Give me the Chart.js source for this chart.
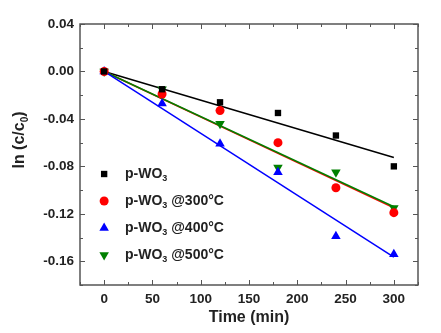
<!DOCTYPE html>
<html lang="en">
<head>
    <meta charset="UTF-8">
    <title>ln(c/c0) vs time</title>
    <script src="https://cdn.jsdelivr.net/npm/chart.js"></script>
    <style>
        body { margin: 0; background: #fff; }
        .chart-container { width: 441px; height: 333px; }
    </style>
</head>
<body>
    <div class="chart-container">
        <canvas id="kineticsChart" width="441" height="333"></canvas>
    </div>

    <script>
        // sampling times (min)
        const times = [0, 60, 120, 180, 240, 300];

        // ln(c/c0) for each sample
        const pWO3 = [0, -0.015, -0.026, -0.035, -0.054, -0.080];
        const pWO3_300 = [0, -0.019, -0.033, -0.060, -0.098, -0.119];
        const pWO3_400 = [0, -0.027, -0.061, -0.085, -0.139, -0.154];
        const pWO3_500 = [0, -0.015, -0.044, -0.081, -0.085, -0.115];

        // linear fits: value at t = 0 and t = 300
        const fitTimes = [0, 300];
        const fitPWO3 = [0, -0.0725];
        const fitPWO3_300 = [0, -0.1150];
        const fitPWO3_400 = [0, -0.1565];
        const fitPWO3_500 = [0, -0.1140];

        const xTicks = [0, 50, 100, 150, 200, 250, 300];
        const yTicks = [0.04, 0.00, -0.04, -0.08, -0.12, -0.16];

        const legendLabels = ['', ' @300°C', ' @400°C', ' @500°C'];

        const FONT = 'Arial, "Liberation Sans", sans-serif';
        const colors = ['#000000', '#ff0000', '#0000ff', '#008000'];
        const styles = [
            { pointStyle: 'rect', radius: 4.5, rotation: 0 },
            { pointStyle: 'circle', radius: 4.5, rotation: 0 },
            { pointStyle: 'triangle', radius: 5.5, rotation: 0 },
            { pointStyle: 'triangle', radius: 5.5, rotation: 180 }
        ];

        const toPts = (xs, ys) => xs.map((x, i) => ({ x: x, y: ys[i] }));

        const series = [pWO3, pWO3_300, pWO3_400, pWO3_500];
        const fits = [fitPWO3, fitPWO3_300, fitPWO3_400, fitPWO3_500];

        const datasets = [];
        // fit lines, drawn below the markers (green over red)
        [0, 1, 3, 2].forEach((k, n) => {
            datasets.push({
                data: toPts(fitTimes, fits[k]),
                showLine: true,
                borderColor: colors[k],
                borderWidth: 1.5,
                pointRadius: 0,
                order: 10 - n
            });
        });
        series.forEach((s, k) => {
            datasets.push({
                data: toPts(times, s),
                showLine: false,
                backgroundColor: colors[k],
                borderColor: colors[k],
                borderWidth: 0,
                pointStyle: styles[k].pointStyle,
                pointRadius: styles[k].radius,
                rotation: styles[k].rotation,
                order: 0
            });
        });

        // text with a subscripted part, e.g. p-WO3
        function drawSub(ctx, parts, x, y, size) {
            parts.forEach(p => {
                if (p.sub) {
                    ctx.font = 'bold ' + Math.round(size * 0.62) + 'px ' + FONT;
                    ctx.fillText(p.t, x, y + size * 0.3);
                } else {
                    ctx.font = 'bold ' + size + 'px ' + FONT;
                    ctx.fillText(p.t, x, y);
                }
                x += ctx.measureText(p.t).width;
            });
        }

        const framePlugin = {
            id: 'frame',
            afterDraw(chart) {
                const ctx = chart.ctx;
                const a = chart.chartArea;
                const xs = chart.scales.x, ys = chart.scales.y;
                ctx.save();
                ctx.strokeStyle = '#555';
                ctx.lineWidth = 1.5;
                ctx.strokeRect(a.left, a.top, a.right - a.left, a.bottom - a.top);

                ctx.lineWidth = 1;
                ctx.beginPath();
                for (let v = -25; v <= 325; v += 25) {
                    const px = Math.round(xs.getPixelForValue(v)) + 0.5;
                    const len = v % 50 === 0 ? 5 : 3;
                    ctx.moveTo(px, a.bottom); ctx.lineTo(px, a.bottom - len);
                    ctx.moveTo(px, a.top); ctx.lineTo(px, a.top + len);
                }
                for (let i = 0; i <= 11; i++) {
                    const v = 0.04 - i * 0.02;
                    const py = Math.round(ys.getPixelForValue(v)) + 0.5;
                    const len = i % 2 === 0 ? 5 : 3;
                    ctx.moveTo(a.left, py); ctx.lineTo(a.left + len, py);
                    ctx.moveTo(a.right, py); ctx.lineTo(a.right - len, py);
                }
                ctx.stroke();

                // legend
                ctx.textBaseline = 'middle';
                ctx.textAlign = 'left';
                legendLabels.forEach((lab, k) => {
                    const ly = 174 + k * 27;
                    ctx.fillStyle = colors[k];
                    Chart.helpers.drawPoint(ctx, {
                        pointStyle: styles[k].pointStyle,
                        radius: styles[k].radius,
                        rotation: styles[k].rotation,
                        borderWidth: 0
                    }, xs.getPixelForValue(0), ly);
                    ctx.fillStyle = '#222';
                    const parts = [{ t: 'p-WO' }, { t: '3', sub: true }];
                    if (lab) parts.push({ t: lab });
                    drawSub(ctx, parts, 125, ly, 14);
                });

                // axis titles
                ctx.fillStyle = '#222';
                ctx.textAlign = 'center';
                ctx.font = 'bold 16px ' + FONT;
                ctx.fillText('Time (min)', (a.left + a.right) / 2, 318);

                ctx.translate(20, 140);
                ctx.rotate(-Math.PI / 2);
                ctx.textAlign = 'left';
                ctx.font = 'bold 16px ' + FONT;
                const w1 = ctx.measureText('ln (c/c').width;
                const w3 = ctx.measureText(')').width;
                ctx.font = 'bold 10px ' + FONT;
                const w2 = ctx.measureText('0').width;
                drawSub(ctx, [{ t: 'ln (c/c' }, { t: '0', sub: true }, { t: ')' }], -(w1 + w2 + w3) / 2, 0, 16);
                ctx.restore();
            }
        };

        const tickFont = { family: FONT, size: 13.5, weight: 'bold' };

        new Chart(document.getElementById('kineticsChart'), {
            type: 'scatter',
            data: { datasets: datasets },
            options: {
                responsive: false,
                animation: false,
                layout: { padding: { top: 24, right: 23, left: 0, bottom: 0 } },
                plugins: { legend: { display: false }, tooltip: { enabled: false } },
                scales: {
                    x: {
                        type: 'linear',
                        min: -25,
                        max: 325,
                        grid: { display: false, drawTicks: false },
                        border: { display: false },
                        afterBuildTicks: s => { s.ticks = xTicks.map(v => ({ value: v })); },
                        afterFit: s => { s.height = 48; },
                        ticks: { font: tickFont, color: '#222', padding: 6, maxRotation: 0 }
                    },
                    y: {
                        type: 'linear',
                        min: -0.18,
                        max: 0.04,
                        grid: { display: false, drawTicks: false },
                        border: { display: false },
                        afterBuildTicks: s => { s.ticks = yTicks.map(v => ({ value: v })); },
                        afterFit: s => { s.width = 80; },
                        ticks: {
                            font: tickFont,
                            color: '#222',
                            padding: 6,
                            callback: v => v.toFixed(2)
                        }
                    }
                }
            },
            plugins: [framePlugin]
        });
    </script>
</body>
</html>
